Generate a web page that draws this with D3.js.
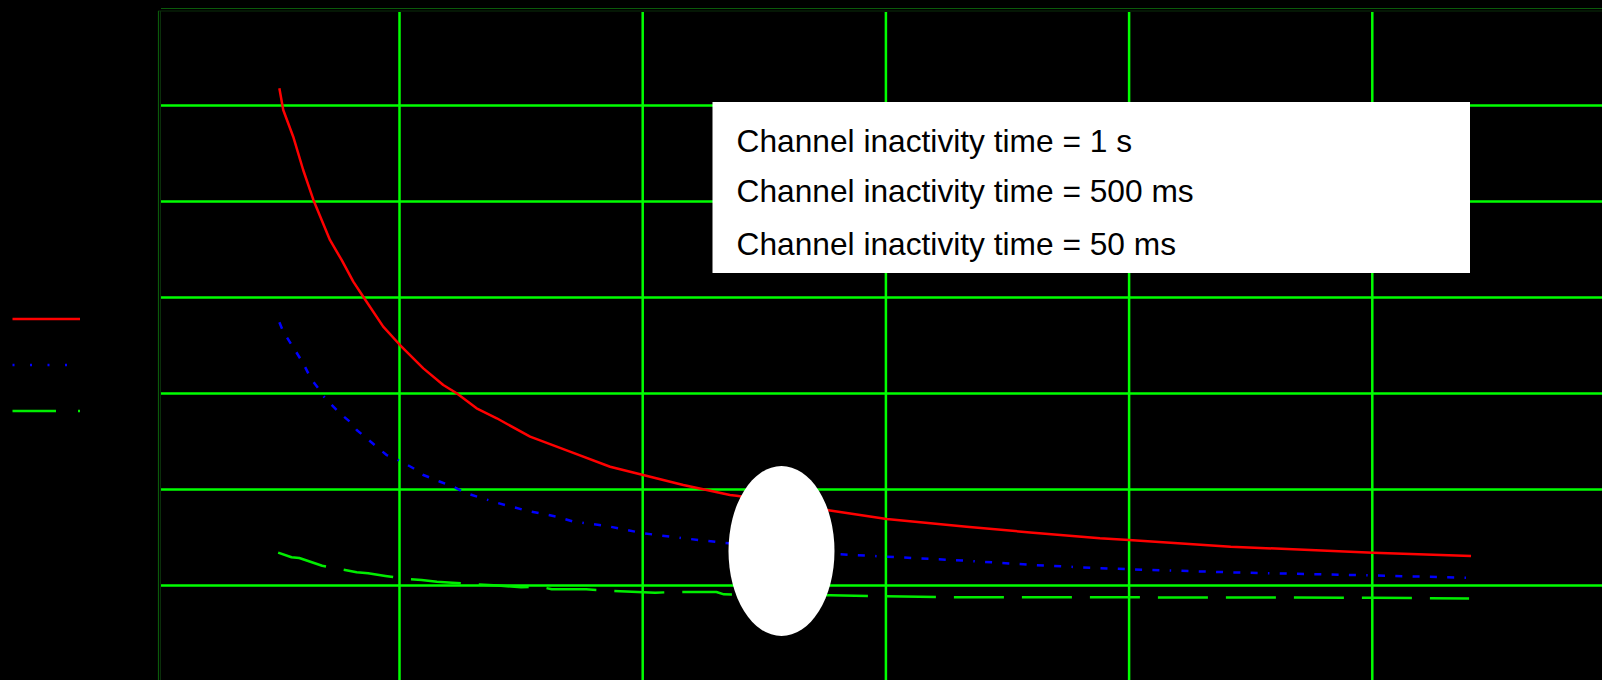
<!DOCTYPE html>
<html>
<head>
<meta charset="utf-8">
<script src="https://cdn.jsdelivr.net/npm/d3@7"></script>
<style>
  html, body { margin: 0; padding: 0; background: #000; }
  svg { display: block; }
</style>
</head>
<body>
<svg id="chart" width="1602" height="680"></svg>
<script>
// ---- data (x and y in grid units) ----
const seriesNames = ["Channel inactivity time = 1 s", "Channel inactivity time = 500 ms", "Channel inactivity time = 50 ms"];
const xTicks = [1, 2, 3, 4, 5];
const yTicks = [1, 2, 3, 4, 5, 6];

const red1s = [
  [0.506, 6.178], [0.522, 5.952], [0.563, 5.674], [0.604, 5.327], [0.646, 5.015],
  [0.714, 4.598], [0.762, 4.390], [0.810, 4.164], [0.851, 4.007], [0.933, 3.695],
  [1.002, 3.504], [1.098, 3.261], [1.180, 3.088], [1.235, 3.001], [1.317, 2.845],
  [1.400, 2.741], [1.537, 2.549], [1.701, 2.393], [1.866, 2.236], [2.002, 2.150],
  [2.167, 2.046], [2.359, 1.942], [2.386, 1.934], [2.784, 1.775], [3.003, 1.692],
  [3.332, 1.611], [3.605, 1.549], [3.880, 1.491], [3.999, 1.473], [4.418, 1.403],
  [5.003, 1.341], [5.406, 1.306]
];
const blue500ms = [
  [0.506, 3.741], [0.522, 3.643], [0.570, 3.452], [0.604, 3.314], [0.635, 3.157],
  [0.666, 3.053], [0.694, 2.949], [0.755, 2.793], [0.796, 2.705], [0.824, 2.619],
  [0.906, 2.445], [0.947, 2.358], [1.009, 2.289], [1.057, 2.220], [1.098, 2.150],
  [1.167, 2.080], [1.221, 2.028], [1.276, 1.959], [1.400, 1.861], [1.523, 1.778],
  [1.646, 1.716], [1.715, 1.664], [1.852, 1.619], [2.002, 1.543], [2.167, 1.491],
  [2.331, 1.445], [2.811, 1.324], [3.003, 1.299], [3.332, 1.257], [3.605, 1.213],
  [3.839, 1.184], [3.999, 1.168], [4.418, 1.136], [5.051, 1.101], [5.389, 1.080]
];
const green50ms = [
  [0.501, 1.341], [0.556, 1.293], [0.588, 1.285], [0.682, 1.205], [0.753, 1.171],
  [0.824, 1.136], [0.871, 1.126], [0.942, 1.098], [1.028, 1.067], [1.091, 1.056],
  [1.154, 1.039], [1.217, 1.028], [1.319, 1.011], [1.405, 0.999], [1.500, 0.980],
  [1.579, 0.986], [1.626, 0.959], [1.768, 0.959], [1.847, 0.945], [2.051, 0.924],
  [2.130, 0.931], [2.303, 0.931], [2.334, 0.907], [2.770, 0.897], [3.250, 0.876],
  [3.880, 0.876], [4.497, 0.874], [4.999, 0.871], [5.398, 0.864]
];

// ---- layout ----
const svg = d3.select("#chart");
const W = 1602, H = 680;
const x = d3.scaleLinear().domain([0, 6]).range([156.3, 1615.5]);
const y = d3.scaleLinear().domain([0, 7]).range([681.4, 9.4]);

svg.append("rect").attr("width", W).attr("height", H).attr("fill", "#000");

// frame lines (dark green)
svg.append("line").attr("x1", 161).attr("x2", W).attr("y1", 8.5).attr("y2", 8.5)
  .attr("stroke", "#0b5a0b").attr("stroke-width", 1);
svg.append("line").attr("x1", 158).attr("x2", W).attr("y1", 11).attr("y2", 11)
  .attr("stroke", "#0a2e0a").attr("stroke-width", 1);
svg.append("line").attr("x1", 158.5).attr("x2", 158.5).attr("y1", 11).attr("y2", H)
  .attr("stroke", "#0b5a0b").attr("stroke-width", 1.2);
svg.append("line").attr("x1", 160.5).attr("x2", 160.5).attr("y1", 11).attr("y2", H)
  .attr("stroke", "#0a2e0a").attr("stroke-width", 1);

// grid
const grid = svg.append("g").attr("stroke", "#00ff00").attr("stroke-width", 2.5);
grid.selectAll("line.v").data(xTicks).join("line").attr("class", "v")
  .attr("x1", d => x(d)).attr("x2", d => x(d)).attr("y1", 12).attr("y2", H);
grid.selectAll("line.h").data(yTicks).join("line").attr("class", "h")
  .attr("x1", 161).attr("x2", W).attr("y1", d => y(d)).attr("y2", d => y(d));

// curves
const line = d3.line().x(d => x(d[0])).y(d => y(d[1]));
const styles = [
  { data: red1s, color: "#ff0000", dash: null, w: 2.5 },
  { data: blue500ms, color: "#0000ff", dash: "7,10.3,7,10.3,7,10.3,7,10.3,7,10.3,1.5,10.3", w: 2.5 },
  { data: green50ms, color: "#00ee00", dash: "50,18", w: 2.5 }
];
svg.append("g").selectAll("path").data(styles).join("path")
  .attr("d", d => line(d.data))
  .attr("fill", "none")
  .attr("stroke", d => d.color)
  .attr("stroke-width", d => d.w)
  .attr("stroke-dasharray", d => d.dash)
  .attr("stroke-linejoin", "round");

// left-hand legend samples
const legendSamples = [
  { color: "#ff0000", dash: null, yy: 319 },
  { color: "#0000ff", dash: "2,15.5", yy: 365 },
  { color: "#00ee00", dash: "43.5,22", yy: 411 }
];
svg.append("g").selectAll("line").data(legendSamples).join("line")
  .attr("x1", 12.5).attr("x2", 80).attr("y1", d => d.yy).attr("y2", d => d.yy)
  .attr("stroke", d => d.color).attr("stroke-width", 2.4)
  .attr("stroke-dasharray", d => d.dash);

// white legend box with labels
svg.append("rect").attr("x", 712.5).attr("y", 102).attr("width", 757.5).attr("height", 171)
  .attr("fill", "#fff");
const baselines = [151.5, 201.5, 254.5];
svg.append("g").selectAll("text").data(seriesNames).join("text")
  .attr("x", 736.6)
  .attr("y", (d, i) => baselines[i])
  .attr("font-family", "Liberation Sans, Arial, sans-serif")
  .attr("font-size", 31.7)
  .attr("fill", "#000")
  .text(d => d);

// white ellipse
svg.append("ellipse").attr("cx", 781.5).attr("cy", 551).attr("rx", 53).attr("ry", 85)
  .attr("fill", "#fff");
</script>
</body>
</html>
